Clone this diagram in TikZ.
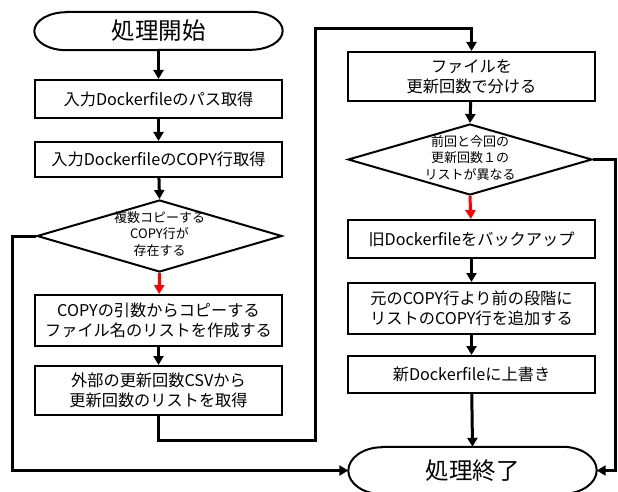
\documentclass[tikz,border=0pt]{standalone}
\usepackage{fontspec}
\setmainfont{Noto Sans CJK JP}
\usetikzlibrary{arrows.meta,shapes.geometric}
\tikzset{
  box/.style={draw,line width=2pt,minimum width=247pt,inner sep=0pt,align=center,font=\fontsize{16.2}{20.5}\selectfont},
  term/.style={minimum width=248pt,minimum height=40pt,inner sep=0pt,font=\fontsize{23.5}{26}\selectfont},
  dia/.style={draw,diamond,line width=2pt,inner sep=0pt},
  dtext/.style={align=center,font=\fontsize{13}{16.5}\selectfont},
  conn/.style={line width=3pt,-{Triangle[length=9pt,width=10pt]}},
  redconn/.style={conn,draw=red,color=red}
}
\newcommand{\stadium}[2]{% node, x radius
  \draw[line width=2pt] ([xshift=#2]#1.north west) -- ([xshift=-#2]#1.north east)
    arc[start angle=90,end angle=-90,x radius=#2,y radius=0.5*\pgfkeysvalueof{/tmp/h}]
    -- ([xshift=#2]#1.south west)
    arc[start angle=270,end angle=90,x radius=#2,y radius=0.5*\pgfkeysvalueof{/tmp/h}] -- cycle;}
\pgfkeys{/tmp/h/.initial=38pt}
\begin{document}
\begin{tikzpicture}[x=1pt,y=-1pt]
\useasboundingbox (0,0) rectangle (618,492);
% left column
\node[term,minimum height=38pt] (start) at (158.5,31) {処理開始};
\pgfkeys{/tmp/h=38pt}\stadium{start}{32pt}
\node[box,minimum height=38pt] (b1) at (158.5,99) {入力Dockerfileのパス取得};
\node[box,minimum height=35pt] (b2) at (158.5,159.5) {入力DockerfileのCOPY行取得};
\node[dia,minimum width=245pt,minimum height=72pt] (d1) at (159.5,236) {};
\node[dtext] (d1t) at (159.5,234) {複数コピーする\\COPY行が\\存在する};
\node[box,minimum height=51pt] (b3) at (158.5,320.5) {COPYの引数からコピーする\\ファイル名のリストを作成する};
\node[box,minimum height=49pt] (b4) at (158.5,390.5) {外部の更新回数CSVから\\更新回数のリストを取得};
% right column
\node[box,minimum height=49pt] (b5) at (471.5,76.5) {ファイルを\\更新回数で分ける};
\node[dia,minimum width=244pt,minimum height=71pt] (d2) at (470,159.5) {};
\node[dtext] (d2t) at (470,158) {前回と今回の\\更新回数１の\\リストが異なる};
\node[box,minimum height=38pt] (b6) at (471.5,239) {旧Dockerfileをバックアップ};
\node[box,minimum height=51pt] (b7) at (471.5,308.5) {元のCOPY行より前の段階に\\リストのCOPY行を追加する};
\node[box,minimum height=37pt] (b8) at (471.5,374.5) {新Dockerfileに上書き};
\node[term,minimum height=47pt] (end) at (472.5,470.5) {処理終了};
\pgfkeys{/tmp/h=47pt}\stadium{end}{34pt}
% waypoints
\coordinate (p1) at (158.5,440);
\coordinate (p2) at (315,440);
\coordinate (p3) at (315,29);
\coordinate (p4) at (471.5,29);
\coordinate (l1) at (12,236);
\coordinate (l2) at (12,470.5);
\coordinate (r1) at (615,159.5);
\coordinate (r2) at (615,470.5);
% connectors
\draw[conn] (start) -- (b1);
\draw[conn] (b1) -- (b2);
\draw[conn] (b2) -- (d1.north);
\draw[redconn] (d1.south) -- (b3);
\draw[conn] (b3) -- (b4);
\draw[conn] (b4.south) -- (p1) -- (p2) -- (p3) -- (p4) -- (b5.north);
\draw[conn] (b5) -- (d2.north);
\draw[redconn] (d2.south) -- (b6);
\draw[conn] (b6) -- (b7);
\draw[conn] (b7) -- (b8);
\draw[conn] (b8) -- (end.north);
\draw[conn] (d1.west) -- (l1) -- (l2) -- (end.west);
\draw[conn] (d2.east) -- (r1) -- (r2) -- (end.east);
\end{tikzpicture}
\end{document}
